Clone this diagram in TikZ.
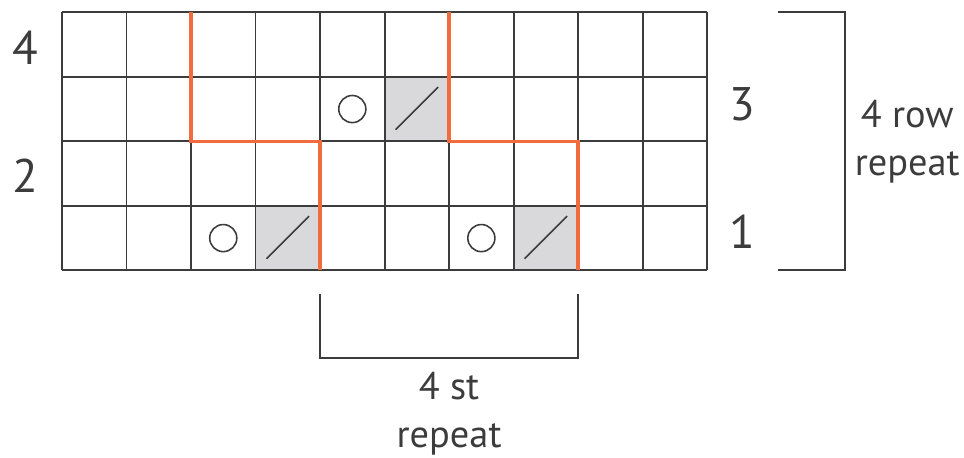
\documentclass[tikz,border=0pt]{standalone}
\usepackage{fontspec}
\setmainfont{PT Sans}
\usepackage{xcolor}
\usepackage{tikz}
\definecolor{KCOrange}{HTML}{F26B3F}
\definecolor{KCLine}{HTML}{3C3C3C}
\definecolor{KCGray}{HTML}{D9D9DC}
\tikzset{
  rownum/.style={font=\fontsize{27}{32}\selectfont,text=KCLine,inner sep=0pt},
  repeatlabel/.style={font=\fontsize{22}{27.5}\selectfont,text=KCLine,align=center,inner sep=0pt},
  chartline/.style={KCLine,line width=1.1pt},
  repeatline/.style={KCOrange,line width=1.9pt}
}
\begin{document}
\begin{tikzpicture}[x=1.3cm,y=1.3cm]
\path[use as bounding box] (-0.96,-2.90) rectangle (13.98,4.19);
\fill[KCGray] (5,2) rectangle (6,3);
\fill[KCGray] (3,0) rectangle (4,1);
\fill[KCGray] (7,0) rectangle (8,1);
\draw[chartline,step=1.3cm] (0,0) grid (10,4);
\draw[chartline,line width=0.9pt] (4.5,2.5) circle (0.21);
\draw[chartline,line width=0.9pt] (5.17,2.18) -- (5.83,2.84);
\draw[chartline,line width=0.9pt] (2.5,0.5) circle (0.21);
\draw[chartline,line width=0.9pt] (3.17,0.18) -- (3.83,0.84);
\draw[chartline,line width=0.9pt] (6.5,0.5) circle (0.21);
\draw[chartline,line width=0.9pt] (7.17,0.18) -- (7.83,0.84);
\draw[repeatline] (2,4) -- (2,2) -- (4,2) -- (4,0);
\draw[repeatline] (6,4) -- (6,2) -- (8,2) -- (8,0);
\node[rownum] (row4) at (-0.56,3.45) {4};
\node[rownum] (row2) at (-0.56,1.47) {2};
\node[rownum] (row3) at (10.54,2.58) {3};
\node[rownum] (row1) at (10.54,0.60) {1};
\draw[chartline] (11.10,4) -- (12.14,4) -- (12.14,0) -- (11.10,0);
\node[repeatlabel] (rowrepeat) at (13.10,2.00) {4 row\\repeat};
\draw[chartline] (4,-0.36) -- (4,-1.36) -- (8,-1.36) -- (8,-0.36);
\node[repeatlabel] (strepeat) at (6.00,-2.22) {4 st\\repeat};
\end{tikzpicture}
\end{document}
